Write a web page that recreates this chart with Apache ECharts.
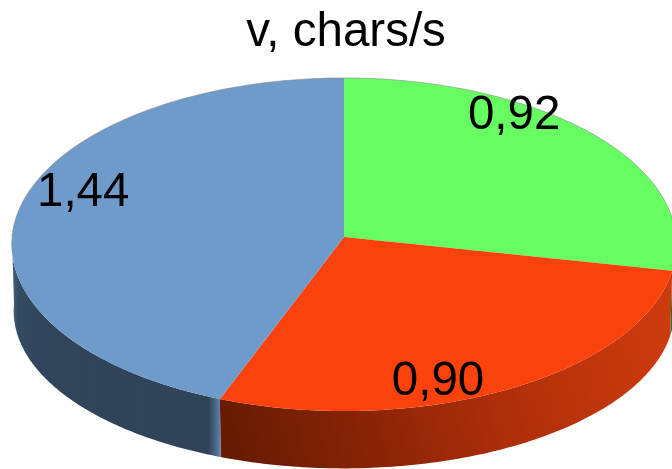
<!DOCTYPE html>
<html>
<head>
<meta charset="utf-8">
<style>html,body{margin:0;padding:0;background:#fff}#chart{width:672px;height:469px}</style>
<script src="https://cdn.jsdelivr.net/npm/echarts@6/dist/echarts.min.js"></script>
</head>
<body>
<div id="chart"></div>
<script>
// Typing speed by slice, clockwise from twelve o'clock
const labels = ['0,92', '0,90', '1,44'];
const values = [0.92, 0.90, 1.44];
const topColors = ['#66fc62', '#fb420c', '#6f9bcb'];
const chartTitle = 'v, chars/s';

// Tilted disc: rim projection of the lid and of the base
const lid = { cx: 344, cy: 237, rx: 332, ry: 166.2, k: 0.045 };
const base = { cx: 344, cy: 304, rx: 330, ry: 157, k: 0.045 };
// Label offset from the rim point at each slice's middle angle
const labelOffsets = [[-80, -19], [-72, -7], [63, -14]];

const total = values.reduce((a, b) => a + b, 0);
const spans = [];
values.reduce((start, v) => {
  const end = start + v / total * Math.PI * 2;
  spans.push([start, end]);
  return end;
}, 0);

function rim(d, t) {
  const u = Math.sin(t), v = Math.cos(t), w = 1 + d.k * v;
  return [d.cx + d.rx * u / w, d.cy - d.ry * v / w];
}
function arc(d, a, b) {
  const n = 120, pts = [];
  for (let i = 0; i <= n; i++) pts.push(rim(d, a + (b - a) * i / n));
  return pts;
}
const wallFill = [
  '#2f6b2f',
  new echarts.graphic.LinearGradient(225, 455, 660, 320, [
    { offset: 0, color: '#651b04' },
    { offset: 0.3, color: '#872306' },
    { offset: 0.6, color: '#ad2e0a' },
    { offset: 0.85, color: '#c2360c' },
    { offset: 1, color: '#cc3b0e' }
  ], true),
  new echarts.graphic.LinearGradient(12, 0, 221, 0, [
    { offset: 0, color: '#4a6581' },
    { offset: 0.03, color: '#344a61' },
    { offset: 0.2, color: '#30445a' },
    { offset: 0.94, color: '#304359' },
    { offset: 0.975, color: '#4a6886' },
    { offset: 1, color: '#6488ad' }
  ], true)
];

const chart = echarts.init(document.getElementById('chart'), null, { renderer: 'canvas' });
chart.setOption({
  animation: false,
  backgroundColor: '#ffffff',
  title: {
    text: chartTitle,
    left: 341,
    top: 4,
    textAlign: 'center',
    textStyle: { fontFamily: 'Liberation Sans', fontSize: 47.5, fontWeight: 'normal', color: '#000' }
  },
  series: [
    {
      // Side walls: only the front half of the rim is ever seen
      type: 'custom',
      coordinateSystem: 'none',
      silent: true,
      data: values,
      renderItem(params) {
        const [s, e] = spans[params.dataIndex];
        const a = Math.max(s, Math.PI / 2), b = Math.min(e, Math.PI * 1.5);
        if (a >= b) return;
        const points = arc(lid, a, b).concat(arc(base, a, b).reverse());
        return {
          type: 'polygon',
          shape: { points },
          style: { fill: wallFill[params.dataIndex] }
        };
      }
    },
    {
      // Lid slices with their value labels and a hairline along the back rim
      type: 'custom',
      coordinateSystem: 'none',
      silent: true,
      data: values,
      renderItem(params) {
        const i = params.dataIndex;
        const [a, b] = spans[i];
        const points = [[lid.cx, lid.cy]].concat(arc(lid, a, b));
        const mid = rim(lid, (a + b) / 2);
        const children = [
          { type: 'polygon', shape: { points }, style: { fill: topColors[i] }, z2: 1 },
          {
            type: 'text',
            z2: 5,
            style: {
              text: labels[i],
              x: mid[0] + labelOffsets[i][0],
              y: mid[1] + labelOffsets[i][1],
              align: 'center',
              verticalAlign: 'middle',
              font: '47.5px "Liberation Sans"',
              fill: '#000'
            }
          }
        ];
        const backEnd = Math.min(b, Math.PI / 2), backStart = Math.max(a, Math.PI * 1.5);
        const backArc = a < Math.PI / 2 ? arc(lid, a, backEnd) : (b > Math.PI * 1.5 ? arc(lid, backStart, b) : null);
        if (backArc) {
          children.push({
            type: 'polyline',
            z2: 2,
            shape: { points: backArc },
            style: { fill: 'none', stroke: '#8a8a8a', lineWidth: 0.6 }
          });
        }
        return { type: 'group', children };
      }
    }
  ]
});
</script>
</body>
</html>
